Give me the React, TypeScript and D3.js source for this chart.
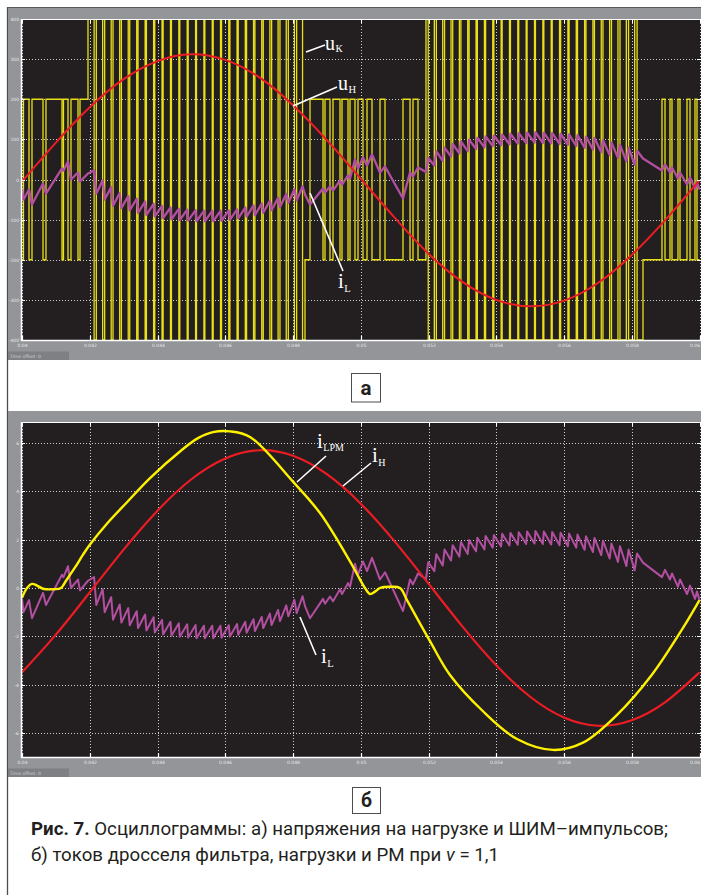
import React, { useLayoutEffect, useRef, useState } from "react";
import * as d3 from "d3";

// ---------- axis ticks (time in ms, labelled in seconds) ----------
const xTickMs = [40, 42, 44, 46, 48, 50, 52, 54, 56, 58, 60];
const xTickLabels = ["0.04", "0.042", "0.044", "0.046", "0.048", "0.05", "0.052", "0.054", "0.056", "0.058", "0.06"];
const yTicksA = [400, 300, 200, 100, 0, -100, -200, -300, -400];
const yTicksB = [6, 4, 2, 0, -2, -4, -6];

// ---------- panel a: load voltage u_н (red) ----------
const uLoadT = [40, 41, 42, 43, 44, 45, 46, 47, 48, 49, 50, 51, 52, 53, 54, 55, 56, 57, 58, 59, 60];
const uLoadV = [-5, 92, 180, 250, 295, 312, 298, 255, 185, 98, 2, -95, -185, -255, -300, -316, -302, -258, -188, -100, -2];

// ---------- panel б: load current i_н (red) ----------
const iLoadT = [40, 41, 42, 43, 44, 45, 46, 47, 48, 49, 50, 51, 52, 53, 54, 55, 56, 57, 58, 59, 60];
const iLoadV = [-3.49, -1.93, -0.18, 1.59, 3.2, 4.5, 5.36, 5.7, 5.47, 4.71, 3.49, 1.93, 0.18, -1.59, -3.2, -4.5, -5.36, -5.7, -5.47, -4.71, -3.49];

// ---------- panel б: i_LPM (yellow) ----------
const iLpmT = [40.0, 40.148, 40.295, 40.443, 40.62, 40.945, 41.151, 41.299, 41.565, 41.801,
  42.007, 42.5, 43.1, 43.779, 44.664, 45.196, 45.638, 46.14, 46.731, 48.0, 48.797,
  49.683, 49.889, 50.125, 50.273, 50.421, 50.568, 50.863, 51.159, 51.365, 52.044,
  52.635, 53.609, 54.613, 55.675, 56.561, 57.565, 58.589, 59.513, 60.0];
const iLpmV = [-0.4, 0.0, 0.17, 0.1, -0.03, -0.05, 0.0, 0.3, 0.85, 1.38,
  1.8, 2.65, 3.55, 4.55, 5.65, 6.2, 6.45, 6.48, 6.25, 4.4, 3.1,
  1.1, 0.58, 0.0, -0.25, -0.15, 0.0, 0.05, 0.0, -0.5, -2.2,
  -3.6, -5.1, -6.25, -6.7, -6.4, -5.25, -3.6, -1.65, -0.5];

// ---------- switching instants (ms): PWM level u_к and choke current i_L ----------
const swT = [
  40.000, 40.044, 40.207, 40.295, 40.620, 40.708, 41.181, 41.225, 41.358, 41.446, 41.653, 41.712,
  41.948, 42.129, 42.194, 42.381, 42.441, 42.633, 42.687, 42.884, 42.934, 43.136, 43.180, 43.386, 43.426, 43.635,
  43.673, 43.885, 43.919, 44.134, 44.166, 44.383, 44.412, 44.630, 44.658, 44.877, 44.905, 45.124, 45.151, 45.370,
  45.398, 45.616, 45.644, 45.860, 45.890, 46.104, 46.137, 46.349, 46.383, 46.591, 46.630, 46.835, 46.876, 47.077,
  47.122, 47.318, 47.369, 47.560, 47.615, 47.801, 47.862, 48.042, 48.108, 48.282,
  48.354, 48.502, 48.886, 48.945, 49.092, 49.181, 49.388, 49.447, 49.624, 49.683, 49.830, 49.919, 50.066, 50.185,
  50.332, 50.568, 50.716, 51.247, 51.454, 51.542, 51.690,
  51.926, 51.992, 52.172, 52.232, 52.419, 52.474, 52.665, 52.715, 52.912, 52.957, 53.158, 53.199, 53.404, 53.442,
  53.651, 53.686, 53.897, 53.929, 54.144, 54.174, 54.390, 54.419, 54.636, 54.664, 54.883, 54.910, 55.129, 55.157,
  55.376, 55.405, 55.622, 55.652, 55.868, 55.900, 56.115, 56.150, 56.361, 56.399, 56.608, 56.649, 56.854, 56.899,
  57.100, 57.150, 57.347, 57.402, 57.593, 57.653, 57.840, 57.906, 58.086, 58.158,
  58.332, 58.893, 58.982, 59.129, 59.188, 59.365, 59.424, 59.631, 59.720, 59.867, 59.926, 60.000,
];
const swU = [
  -200, 200, -200, 200, -200, 200, -200, 200, -200, 200, -200, 200,
  400, -400, 400, -400, 400, -400, 400, -400, 400, -400, 400, -400, 400, -400,
  400, -400, 400, -400, 400, -400, 400, -400, 400, -400, 400, -400, 400, -400,
  400, -400, 400, -400, 400, -400, 400, -400, 400, -400, 400, -400, 400, -400,
  400, -400, 400, -400, 400, -400, 400, -400, 400, -400,
  -200, 200, -200, 200, -200, 200, -200, 200, -200, 200, -200, 200, -200, 200,
  -200, 200, -200, 200, -200, 200, -200,
  400, -400, 400, -400, 400, -400, 400, -400, 400, -400, 400, -400, 400, -400,
  400, -400, 400, -400, 400, -400, 400, -400, 400, -400, 400, -400, 400, -400,
  400, -400, 400, -400, 400, -400, 400, -400, 400, -400, 400, -400, 400, -400,
  400, -400, 400, -400, 400, -400, 400, -400, 400, -400,
  -200, 200, -200, 200, -200, 200, -200, 200, -200, 200, -200, -200,
];
const iLV = [
  -0.45, -1.0, -0.5, -1.25, -0.2, -0.7, 0.55, 0.45, 0.9, 0.0, 0.35, -0.1,
  0.30, 0.45, -0.70, -0.05, -1.00, -0.38, -1.31, -0.68, -1.43, -0.83, -1.54, -0.96, -1.66, -1.10,
  -1.76, -1.21, -1.84, -1.32, -1.92, -1.40, -1.98, -1.46, -2.02, -1.50, -2.05, -1.53, -2.08, -1.56,
  -2.08, -1.56, -2.08, -1.56, -2.06, -1.54, -2.01, -1.49, -1.94, -1.40, -1.85, -1.29, -1.78, -1.20,
  -1.66, -1.06, -1.53, -0.91, -1.37, -0.72, -1.17, -0.49, -1.04, -0.34,
  -0.75, -1.25, -0.45, -0.65, -0.35, -0.55, -0.05, -0.25, 0.2, 0.05, 1.0, 0.55, 1.1, 0.7,
  1.25, 0.35, 0.65, -0.95, 0.35, 0.15, 0.6,
  0.37, 1.07, 0.70, 1.40, 0.93, 1.59, 1.14, 1.77, 1.30, 1.90, 1.41, 1.99, 1.52, 2.08,
  1.60, 2.15, 1.67, 2.19, 1.72, 2.24, 1.76, 2.28, 1.79, 2.31, 1.82, 2.34, 1.84, 2.36,
  1.82, 2.34, 1.80, 2.32, 1.77, 2.29, 1.73, 2.25, 1.67, 2.21, 1.58, 2.14, 1.49, 2.07,
  1.36, 1.96, 1.22, 1.84, 1.08, 1.73, 0.91, 1.59, 0.73, 1.43,
  1.05, 0.45, 0.75, 0.35, 0.6, 0.05, 0.35, -0.25, 0.1, -0.45, -0.15, -0.5,
];
// scope channel gain of i_L on the voltage screen (panel a)
const iLGainA = 50;

const CAPTION1_BOLD = "Рис. 7.";
const CAPTION1_REST = " Осциллограммы: а) напряжения на нагрузке и ШИМ–импульсов;";
const CAPTION2_A = "б) токов дросселя фильтра, нагрузки и РМ при ";
const CAPTION2_V = "v";
const CAPTION2_B = " = 1,1";

const BLACK = "#231f20";
const GREY = "#939598";
const YELLOW = "#fff200";
const RED = "#ed1c24";
const MAGENTA = "#b24fa0";

const x = d3.scaleLinear().domain([40, 60]).range([22, 699.5]);
const yA = d3.scaleLinear().domain([-400, 400]).range([340, 19]);
const yB = d3.scaleLinear().domain([-6, 6]).range([733, 443]);

type P = [number, number];
const zip = (t: number[], v: number[], k = 1): P[] =>
  t.slice(0, Math.min(t.length, v.length)).map((tt, i) => [tt, v[i] * k]);

function Scope(props: {
  gy0: number; gy1: number; py0: number; py1: number;
  y: d3.ScaleLinear<number, number>; yTicks: number[]; clipId: string; children: React.ReactNode;
}) {
  const { gy0, gy1, py0, py1, y, yTicks, clipId, children } = props;
  const L = 21, R = 701;
  return (
    <g>
      <rect x={8} y={gy0} width={R - 8} height={gy1 - gy0} fill={GREY} />
      <rect x={L} y={py0} width={R - L} height={py1 - py0} fill={BLACK} />
      <defs>
        <clipPath id={clipId}>
          <rect x={L + 1} y={py0 + 1} width={R - L - 1} height={py1 - py0 - 1} />
        </clipPath>
      </defs>
      {/* dotted grid */}
      {yTicks.map((v, i) => {
        const yy = Math.round(y(v)) + 0.5;
        if (yy < py0 + 2 || yy > py1 - 2) return null;
        return <line key={"gy" + i} x1={L + 2} x2={R} y1={yy} y2={yy} stroke="#cdcdcd" strokeWidth={1} strokeDasharray="1 2" />;
      })}
      {xTickMs.map((v, i) => {
        const xx = Math.round(x(v)) + 0.5;
        return <line key={"gx" + i} x1={xx} x2={xx} y1={py0 + 1} y2={py1} stroke="#cdcdcd" strokeWidth={1} strokeDasharray="1 2" />;
      })}
      <g clipPath={`url(#${clipId})`}>{children}</g>
      {/* frame */}
      <line x1={L + 0.5} x2={L + 0.5} y1={py0} y2={py1 + 1} stroke="#ffffff" strokeWidth={1.5} />
      <line x1={L} x2={R} y1={py0 + 0.5} y2={py0 + 0.5} stroke="#ffffff" strokeWidth={1} />
      <line x1={L} x2={R} y1={py1 + 0.5} y2={py1 + 0.5} stroke="#ffffff" strokeWidth={1.5} />
      {xTickMs.map((v, i) => {
        const xx = Math.round(x(v)) + 0.5;
        const last = i === xTickMs.length - 1;
        return (
          <g key={"tx" + i}>
            <line x1={xx} x2={xx} y1={py0} y2={py0 + 4} stroke="#ffffff" strokeWidth={1} />
            <line x1={xx} x2={xx} y1={py1 - 4} y2={py1} stroke="#ffffff" strokeWidth={1.2} />
            <text x={last ? 700 : xx} y={py1 + 6.5} fontSize={4.5} fill="#e8e8e8" textAnchor={last ? "end" : "middle"} fontFamily="DejaVu Sans">
              {xTickLabels[i]}
            </text>
          </g>
        );
      })}
      {yTicks.map((v, i) => {
        const yy = Math.round(y(v)) + 0.5;
        return (
          <g key={"ty" + i}>
            <line x1={L} x2={L + 4} y1={yy} y2={yy} stroke="#ffffff" strokeWidth={1} />
            <line x1={R - 4} x2={R} y1={yy} y2={yy} stroke="#ffffff" strokeWidth={1} />
            <text x={19} y={yy + 1.5} fontSize={4.5} fill="#e8e8e8" textAnchor="end" fontFamily="DejaVu Sans">
              {String(v)}
            </text>
          </g>
        );
      })}
      {/* time offset strip */}
      <rect x={8} y={gy1 - 8.5} width={61} height={8.5} fill="#7f8083" />
      <text x={10} y={gy1 - 2.5} fontSize={4.5} fill="#cfcfcf" fontFamily="DejaVu Sans">Time offset: 0</text>
    </g>
  );
}

function Lbl(props: { x: number; y: number; main: string; sub: string; subDx?: number; subDy?: number; size?: number; subSize?: number }) {
  const { x: lx, y: ly, main, sub, subDx = 0.5, subDy = 3, size = 20, subSize = 10.5 } = props;
  return (
    <text x={lx} y={ly} fill="#ffffff" fontFamily="'Liberation Serif', 'DejaVu Serif', serif" fontSize={size}>
      {main}
      <tspan dx={subDx} dy={subDy} fontSize={subSize}>{sub}</tspan>
    </text>
  );
}

export default function App() {
  const l1 = useRef<SVGTextElement>(null);
  const l2 = useRef<SVGTextElement>(null);
  const [lens, setLens] = useState<[number, number] | null>(null);
  const LINE1_END = 668, LINE_START = 31;

  useLayoutEffect(() => {
    if (l1.current && l2.current) {
      const n1 = l1.current.getComputedTextLength();
      const n2 = l2.current.getComputedTextLength();
      const target1 = LINE1_END - LINE_START;
      setLens([target1, n2 * (target1 / n1)]);
    }
  }, []);

  const pwmLine = d3.line<P>().x((d) => x(d[0])).y((d) => yA(d[1])).curve(d3.curveStepAfter);
  const linA = d3.line<P>().x((d) => x(d[0])).y((d) => yA(d[1]));
  const smoothA = d3.line<P>().x((d) => x(d[0])).y((d) => yA(d[1])).curve(d3.curveNatural);
  const linB = d3.line<P>().x((d) => x(d[0])).y((d) => yB(d[1]));
  const smoothB = d3.line<P>().x((d) => x(d[0])).y((d) => yB(d[1])).curve(d3.curveNatural);
  const crB = d3.line<P>().x((d) => x(d[0])).y((d) => yB(d[1])).curve(d3.curveCatmullRom.alpha(0.5));

  const captionFont = "Roboto, 'Noto Sans', sans-serif";

  return (
    <svg width={701} height={895} viewBox="0 0 701 895" style={{ position: "absolute", left: 0, top: 0, background: "#fff" }}>
      <rect x={0} y={0} width={701} height={895} fill="#ffffff" />
      {/* outer frame */}
      <line x1={7.5} x2={7.5} y1={7} y2={895} stroke="#4d4d4f" strokeWidth={1.3} />
      <line x1={7} x2={701} y1={7.5} y2={7.5} stroke="#58595b" strokeWidth={1} />

      {/* ---------- panel a ---------- */}
      <Scope gy0={8} gy1={360} py0={19} py1={340} y={yA} yTicks={yTicksA} clipId="clipA">
        <path d={pwmLine(zip(swT, swU)) || ""} fill="none" stroke="#e9e01a" strokeWidth={1.3} />
        <path d={linA(zip(swT, iLV, iLGainA)) || ""} fill="none" stroke={MAGENTA} strokeWidth={2.3} strokeLinejoin="round" />
        <path d={smoothA(zip(uLoadT, uLoadV)) || ""} fill="none" stroke={RED} strokeWidth={2} />
      </Scope>
      {/* annotations a */}
      <line x1={306} y1={52} x2={325} y2={45} stroke="#fff" strokeWidth={1.6} />
      <Lbl x={325} y={50} main="u" sub="К" subDy={2} />
      <line x1={293} y1={106} x2={337} y2={87} stroke="#fff" strokeWidth={1.6} />
      <Lbl x={338} y={90} main="u" sub="Н" subDy={3} />
      <line x1={310} y1={193} x2={343} y2={271} stroke="#fff" strokeWidth={1.6} />
      <Lbl x={338} y={288} main="i" sub="L" subDy={4} size={21} />

      {/* label а */}
      <rect x={351.5} y={373.5} width={29} height={28.5} fill="#fff" stroke="#4d4d4f" strokeWidth={1} />
      <text x={366} y={395} textAnchor="middle" fontFamily={captionFont} fontWeight="bold" fontSize={21} fill={BLACK} textLength={11} lengthAdjust="spacingAndGlyphs">а</text>

      {/* ---------- panel б ---------- */}
      <Scope gy0={411} gy1={777} py0={422} py1={757} y={yB} yTicks={yTicksB} clipId="clipB">
        <path d={linB(zip(swT, iLV)) || ""} fill="none" stroke={MAGENTA} strokeWidth={2} strokeLinejoin="round" />
        <path d={smoothB(zip(iLoadT, iLoadV)) || ""} fill="none" stroke={RED} strokeWidth={2.2} />
        <path d={crB(zip(iLpmT, iLpmV)) || ""} fill="none" stroke={YELLOW} strokeWidth={2.4} />
      </Scope>
      {/* annotations б */}
      <line x1={297} y1={482} x2={326} y2={456} stroke="#fff" strokeWidth={1.6} />
      <Lbl x={317} y={448} main="i" sub="LPM" subDy={3} size={21} subSize={10} />
      <line x1={343} y1={486} x2={371} y2={463} stroke="#fff" strokeWidth={1.6} />
      <Lbl x={372} y={462} main="i" sub="Н" subDy={4} size={21} subSize={10} />
      <line x1={300} y1={617} x2={316} y2={655} stroke="#fff" strokeWidth={1.6} />
      <Lbl x={321} y={663} main="i" sub="L" subDy={4} size={21} />

      {/* label б */}
      <rect x={352.5} y={787.5} width={28} height={26} fill="#fff" stroke="#4d4d4f" strokeWidth={1} />
      <text x={366.5} y={807} textAnchor="middle" fontFamily={captionFont} fontWeight="bold" fontSize={20} fill={BLACK} textLength={11} lengthAdjust="spacingAndGlyphs">б</text>

      {/* ---------- caption ---------- */}
      <text ref={l1} x={LINE_START} y={835} fontFamily={captionFont} fontSize={18.5} fill={BLACK}
        {...(lens ? { textLength: lens[0], lengthAdjust: "spacingAndGlyphs" } : {})}>
        <tspan fontWeight="bold">{CAPTION1_BOLD}</tspan>
        <tspan>{CAPTION1_REST}</tspan>
      </text>
      <text ref={l2} x={LINE_START} y={861} fontFamily={captionFont} fontSize={18.5} fill={BLACK}
        {...(lens ? { textLength: lens[1], lengthAdjust: "spacingAndGlyphs" } : {})}>
        <tspan>{CAPTION2_A}</tspan>
        <tspan fontStyle="italic">{CAPTION2_V}</tspan>
        <tspan>{CAPTION2_B}</tspan>
      </text>
    </svg>
  );
}
